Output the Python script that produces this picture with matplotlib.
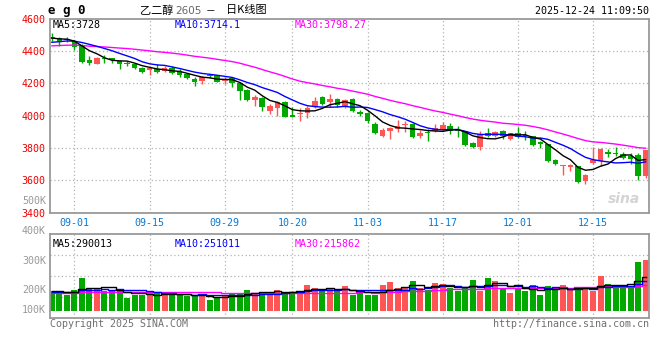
import numpy as np
import pandas as pd
import matplotlib
matplotlib.use('Agg')
import matplotlib.pyplot as plt

# daily K of eg0 (乙二醇2605), one entry per trading day
opens = [4486, 4480, 4474, 4459, 4433, 4345, 4320, 4357, 4355, 4337,
         4326, 4318, 4293, 4281, 4287, 4275, 4295, 4275, 4254, 4228,
         4211, 4250, 4250, 4216, 4230, 4199, 4160, 4097, 4111, 4031,
         4050, 4086, 4006, 4008, 4013, 4052, 4117, 4082, 4105, 4052,
         4103, 4025, 4019, 3951, 3873, 3906, 3916, 3941, 3951, 3873,
         3899, 3903, 3911, 3938, 3913, 3903, 3833, 3808, 3895, 3872,
         3903, 3855, 3892, 3880, 3872, 3839, 3823, 3725, 3688, 3680,
         3688, 3598, 3707, 3718, 3772, 3770, 3765, 3752, 3755, 3625]
highs = [4511, 4486, 4486, 4468, 4443, 4367, 4361, 4375, 4357, 4345,
         4338, 4324, 4300, 4295, 4320, 4304, 4304, 4285, 4263, 4238,
         4246, 4259, 4252, 4236, 4236, 4205, 4164, 4129, 4117, 4072,
         4093, 4088, 4052, 4045, 4062, 4117, 4119, 4134, 4109, 4103,
         4109, 4037, 4023, 3959, 3925, 3929, 3970, 3966, 3955, 3912,
         3917, 3950, 3962, 3954, 3934, 3905, 3839, 3907, 3923, 3907,
         3913, 3895, 3927, 3907, 3876, 3841, 3825, 3733, 3697, 3702,
         3690, 3638, 3805, 3800, 3792, 3806, 3772, 3768, 3768, 3790]
lows = [4463, 4433, 4457, 4408, 4326, 4314, 4316, 4326, 4322, 4289,
        4304, 4285, 4261, 4248, 4265, 4267, 4257, 4236, 4228, 4181,
        4197, 4232, 4205, 4195, 4175, 4099, 4088, 4062, 4031, 4011,
        4000, 3990, 3990, 3965, 3988, 4048, 4064, 4056, 4052, 4048,
        4021, 4000, 3953, 3886, 3867, 3855, 3898, 3898, 3861, 3861,
        3846, 3897, 3903, 3887, 3868, 3815, 3798, 3786, 3868, 3866,
        3858, 3852, 3862, 3852, 3811, 3800, 3715, 3694, 3633, 3657,
        3582, 3578, 3703, 3690, 3746, 3750, 3732, 3700, 3602, 3615]
closes = [4474, 4453, 4470, 4422, 4334, 4326, 4357, 4347, 4345, 4316,
          4320, 4295, 4267, 4293, 4267, 4295, 4263, 4248, 4234, 4205,
          4238, 4242, 4207, 4226, 4199, 4150, 4097, 4113, 4052, 4058,
          4086, 3994, 3994, 4018, 4049, 4093, 4070, 4105, 4064, 4099,
          4029, 4009, 3965, 3890, 3910, 3923, 3937, 3951, 3867, 3892,
          3891, 3923, 3940, 3907, 3907, 3817, 3805, 3885, 3873, 3901,
          3875, 3891, 3865, 3875, 3820, 3825, 3722, 3701, 3695, 3692,
          3592, 3632, 3725, 3795, 3760, 3760, 3740, 3730, 3625, 3785]
vols = [171, 171, 134, 177, 279, 194, 185, 165, 165, 185,
        108, 137, 137, 151, 151, 137, 151, 137, 123, 137,
        137, 94, 108, 123, 151, 151, 179, 151, 160, 151,
        179, 160, 160, 171, 222, 194, 175, 185, 165, 214,
        137, 151, 137, 137, 222, 245, 194, 194, 256, 194,
        179, 236, 228, 194, 171, 199, 265, 165, 279, 256,
        194, 151, 194, 165, 217, 137, 208, 179, 217, 179,
        202, 202, 165, 296, 228, 199, 199, 208, 416, 427]  # K lots

# days before the first shown candle, only used to start the MA lines
pre_close = [4395, 4410, 4402, 4425, 4438, 4416, 4430, 4445, 4421, 4408,
             4426, 4418, 4437, 4429, 4412, 4403, 4420, 4434, 4427, 4404,
             4415, 4428, 4432, 4418, 4440, 4480, 4478, 4483, 4482]
pre_vol = [142, 158, 135, 150, 166, 148, 139, 155, 161, 147,
           152, 144, 138, 157, 149, 163, 146, 151, 140, 155,
           148, 137, 160, 152, 145, 168, 159, 172, 154]

date_idx = [3, 13, 23, 32, 42, 52, 62, 72]
date_lbl = ['09-01', '09-15', '09-29', '10-20', '11-03', '11-17', '12-01', '12-15']
price_ticks = [3400, 3600, 3800, 4000, 4200, 4400, 4600]
vol_lbl = ['500K', '400K', '300K', '200K', '100K']

RED = '#ff5555'
GREEN = '#00a800'
GRID = '#b4b4b4'
FRAME = '#9a9a9a'
MONO = 'DejaVu Sans Mono'
CJK = ['Noto Sans CJK SC', 'DejaVu Sans']

W, H = 660, 360


def ma(pre, vals, n):
    s = pd.Series(list(pre) + list(vals), dtype=float).rolling(n).mean()
    return s.values[len(pre):]


def px_axes(l, t, r, b):
    return fig.add_axes([l / W, 1 - b / H, (r - l) / W, (b - t) / H])


def ftext(x, y, s, **kw):
    fig.text(x / W, 1 - y / H, s, va='center', **kw)


fig = plt.figure(figsize=(W / 100, H / 100), dpi=100)
fig.patch.set_facecolor('white')

x = np.arange(len(closes))
o, h, l, c = (np.array(a, dtype=float) for a in (opens, highs, lows, closes))
col = np.where(c >= o, RED, GREEN)

# ---- price panel
ax = px_axes(50, 18.5, 649, 212.7)
ax.set_xlim(-0.25, len(x) - 0.55)
ax.set_ylim(price_ticks[0], price_ticks[-1])
for d in date_idx:
    ax.axvline(d, color=GRID, lw=0.9, ls=(0, (1, 2)), zorder=0)
for p in price_ticks[1:-1]:
    ax.axhline(p, color=GRID, lw=0.9, ls=(0, (1, 2)), zorder=0)

ax.vlines(x, l, h, colors=col, lw=1.0, zorder=2)
ax.bar(x, np.maximum(np.abs(c - o), 4), bottom=np.minimum(o, c),
       width=0.75, color=col, lw=0, zorder=2)

ax.plot(x, ma(pre_close, closes, 30), color='#ff00ff', lw=1.0, zorder=3)
ax.plot(x, ma(pre_close, closes, 10), color='#0000ff', lw=1.0, zorder=3)
ax.plot(x, ma(pre_close, closes, 5), color='black', lw=1.0, zorder=3)

ax.set_yticks(price_ticks)
ax.set_yticklabels([str(p) for p in price_ticks], color='#ee0000',
                   fontfamily=MONO, fontsize=7.2)
ax.set_xticks(date_idx)
ax.set_xticklabels(date_lbl, color='#0a78d0', fontfamily=MONO, fontsize=7.2)
ax.tick_params(length=0, pad=3.5)
for s in ax.spines.values():
    s.set_color(FRAME)
    s.set_linewidth(1.3)

ax.text(0.005, 0.965, 'MA5:3728', transform=ax.transAxes, color='black',
        fontfamily=MONO, fontsize=7.2, va='center')
ax.text(0.208, 0.965, 'MA10:3714.1', transform=ax.transAxes, color='#0000ff',
        fontfamily=MONO, fontsize=7.2, va='center')
ax.text(0.408, 0.965, 'MA30:3798.27', transform=ax.transAxes, color='#ff00ff',
        fontfamily=MONO, fontsize=7.2, va='center')
ax.text(0.985, 0.07, 'sina', transform=ax.transAxes, color='#d4d4d4',
        fontsize=10, fontweight='bold', style='italic', ha='right', va='center')

# ---- volume panel
vx = px_axes(50, 234.3, 649, 318.3)
vx.set_xlim(ax.get_xlim())
vy0, vy1 = -65, 650
vx.set_ylim(vy0, vy1)
for d in date_idx:
    vx.axvline(d, color=GRID, lw=0.9, ls=(0, (1, 2)), zorder=0)
for g in np.linspace(vy0, vy1, 5)[1:-1]:
    vx.axhline(g, color=GRID, lw=0.9, ls=(0, (1, 2)), zorder=0)
vx.bar(x, vols, width=0.8, color=col, lw=0, zorder=2)
vx.plot(x, ma(pre_vol, vols, 30), color='#ff00ff', lw=1.0, drawstyle='steps-mid', zorder=3)
vx.plot(x, ma(pre_vol, vols, 10), color='#0000ff', lw=1.0, drawstyle='steps-mid', zorder=3)
vx.plot(x, ma(pre_vol, vols, 5), color='black', lw=1.0, drawstyle='steps-mid', zorder=3)
vx.set_xticks([])
vx.set_yticks([])
for s in vx.spines.values():
    s.set_color(FRAME)
    s.set_linewidth(1.3)

vx.text(0.005, 0.88, 'MA5:290013', transform=vx.transAxes, color='black',
        fontfamily=MONO, fontsize=7.2, va='center')
vx.text(0.208, 0.88, 'MA10:251011', transform=vx.transAxes, color='#0000ff',
        fontfamily=MONO, fontsize=7.2, va='center')
vx.text(0.408, 0.88, 'MA30:215862', transform=vx.transAxes, color='#ff00ff',
        fontfamily=MONO, fontsize=7.2, va='center')

for lbl, yy in zip(vol_lbl, [200.7, 230.7, 261, 290, 310]):
    ftext(46, yy, lbl, color='#999999', fontfamily=MONO, fontsize=7.2, ha='right')

# ---- header / footer
ftext(48, 10.5, 'e g 0', color='black', fontfamily=MONO, fontsize=9,
      fontweight='bold', ha='left')
ftext(140, 10.5, '乙二醇', color='black', family=CJK, fontsize=8, ha='left')
ftext(175, 11, '2605', color='#666666', fontsize=7.5, ha='left')
ftext(206, 10.5, '－', color='black', family=CJK, fontsize=7, ha='left')
ftext(226, 10.5, '日K线图', color='black', family=CJK, fontsize=8, ha='left')
ftext(649, 11, '2025-12-24 11:09:50', color='black', fontfamily=MONO,
      fontsize=7.2, ha='right')
ftext(50, 324, 'Copyright 2025 SINA.COM', color='#707070', fontfamily=MONO,
      fontsize=7.2, ha='left')
ftext(649, 324, 'http://finance.sina.com.cn', color='#707070', fontfamily=MONO,
      fontsize=7.2, ha='right')

fig.savefig('out.png', dpi=100)
